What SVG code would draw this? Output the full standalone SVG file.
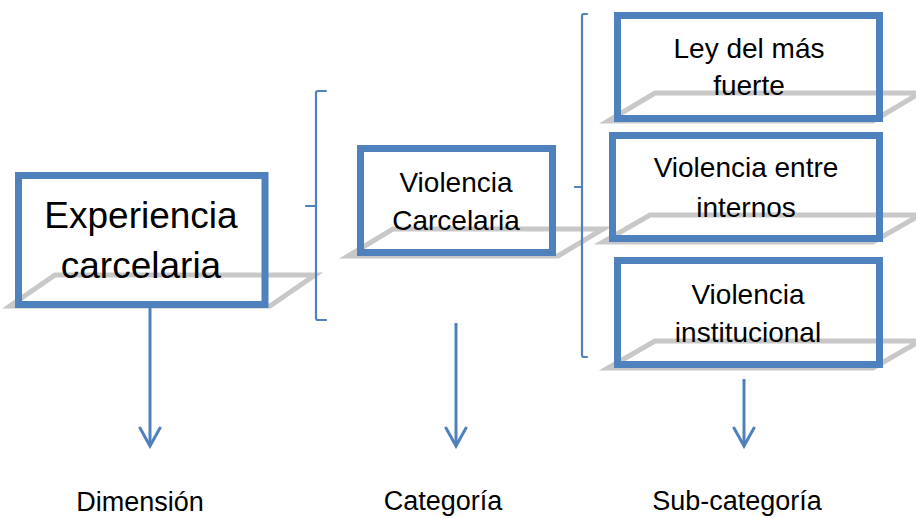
<svg xmlns="http://www.w3.org/2000/svg" width="916" height="518" viewBox="0 0 916 518">
  <style>
    .plane { fill: none; stroke: #c8c8c8; stroke-width: 5; stroke-linejoin: miter; }
    .box { fill: none; stroke: #4f81bd; stroke-width: 7; }
    .brace { fill: none; stroke: #4f81bd; stroke-width: 2.2; stroke-linecap: round; stroke-linejoin: round; }
    .conn { fill: none; stroke: #4f81bd; stroke-width: 3; }
    .t { font-family: "Liberation Sans", Arial, sans-serif; fill: #000; text-anchor: middle; }
    .big { font-size: 37px; }
    .mid { font-size: 28px; }
    .lab { font-size: 27px; }
  </style>
  <defs>
    <marker id="arr" markerUnits="userSpaceOnUse" viewBox="-21 -13 24 26" refX="0" refY="0" markerWidth="24" markerHeight="26" orient="auto">
      <path d="M -18,-10 L 0,0 L -18,10" fill="none" stroke="#4f81bd" stroke-width="3" stroke-linecap="round" stroke-linejoin="miter"/>
    </marker>
  </defs>
  <rect width="916" height="518" fill="#fff"/>

  <g id="node-experiencia">
    <polygon class="plane" points="55,275 315,275 270,306 10,306"/>
    <text class="t big" x="141" y="228">Experiencia</text>
    <text class="t big" x="141" y="278">carcelaria</text>
    <rect class="box" x="18.5" y="175.5" width="246.5" height="129"/>
  </g>

  <g id="node-violencia-carcelaria">
    <polygon class="plane" points="393,229 603,229 558,256 348,256"/>
    <text class="t mid" x="456" y="192">Violencia</text>
    <text class="t mid" x="456" y="230">Carcelaria</text>
    <rect class="box" x="360.5" y="148.5" width="192" height="104"/>
  </g>

  <g id="node-ley">
    <polygon class="plane" points="655,93 920,93 873,121 608,121"/>
    <text class="t mid" x="749" y="58">Ley del más</text>
    <text class="t mid" x="749" y="95">fuerte</text>
    <rect class="box" x="617.5" y="15.5" width="262" height="103"/>
  </g>

  <g id="node-entre-internos">
    <polygon class="plane" points="650,215 920,215 873,242 603,242"/>
    <text class="t mid" x="746" y="177">Violencia entre</text>
    <text class="t mid" x="746" y="217">internos</text>
    <rect class="box" x="612.5" y="135.5" width="267" height="103"/>
  </g>

  <g id="node-institucional">
    <polygon class="plane" points="655,341 920,341 873,368 608,368"/>
    <text class="t mid" x="748" y="304">Violencia</text>
    <text class="t mid" x="748" y="342">institucional</text>
    <rect class="box" x="617.5" y="260.5" width="262" height="104"/>
  </g>

  <g id="connectors">
    <path class="brace" d="M 326,91 L 318,91 Q 316,91 316,93 L 316,318 Q 316,320 318,320 L 326,320 M 316,206 L 306,206"/>
    <path class="brace" d="M 587,14 L 584,14 Q 582,14 582,16 L 582,355 Q 582,357 584,357 L 587,357 M 582,187 L 575,187"/>
    <line class="conn" x1="150" y1="308" x2="150" y2="446" marker-end="url(#arr)"/>
    <line class="conn" x1="456" y1="323" x2="456" y2="446" marker-end="url(#arr)"/>
    <line class="conn" x1="744" y1="379" x2="744" y2="446" marker-end="url(#arr)"/>
  </g>

  <g id="labels">
    <text class="t lab" x="140" y="511">Dimensión</text>
    <text class="t lab" x="443" y="510">Categoría</text>
    <text class="t lab" x="737" y="510">Sub-categoría</text>
  </g>
</svg>
